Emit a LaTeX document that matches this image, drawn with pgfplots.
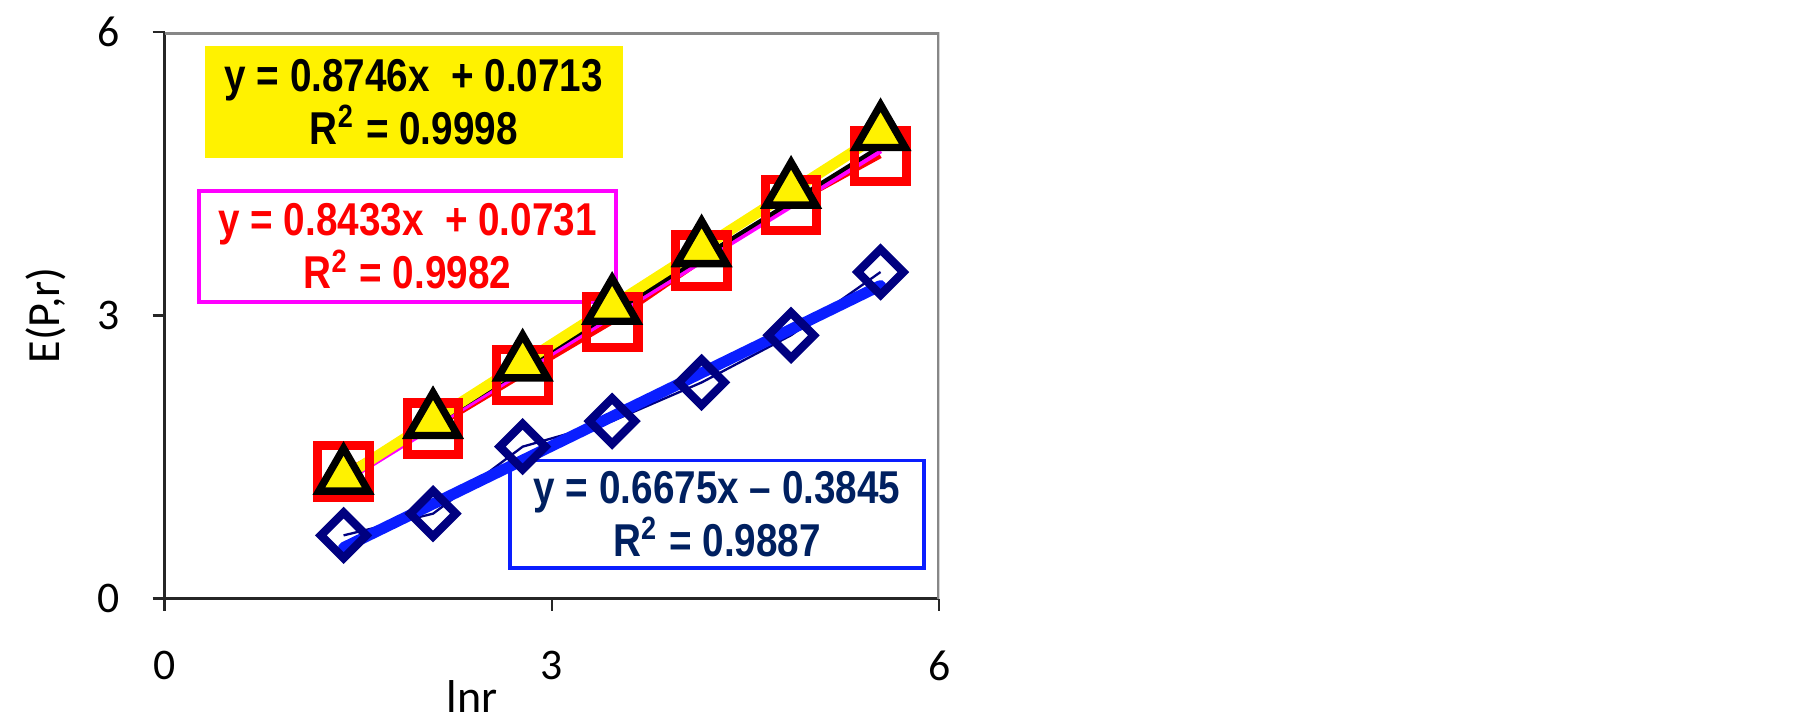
\documentclass[border=0pt]{standalone}
\usepackage{fontspec}
\setmainfont{Carlito}
\newfontfamily\eqfont[FakeStretch=0.84]{Liberation Sans}
\usepackage{pgfplots}
\pgfplotsset{compat=1.18}
\definecolor{navyd}{RGB}{0,0,128}
\definecolor{eqnavy}{RGB}{0,32,96}
\definecolor{trendblue}{RGB}{10,30,255}
\definecolor{mag}{RGB}{255,0,255}
\definecolor{framegray}{RGB}{135,135,135}
\begin{document}
\begin{tikzpicture}
\useasboundingbox (-35.75pt,-26.5pt) rectangle (356.25pt,130pt);
\begin{axis}[
  at={(0,0)}, anchor=south west,
  scale only axis, width=168.25pt, height=123pt,
  xmin=0, xmax=6, ymin=0, ymax=6,
  xtick={0,3,6}, ytick={0,3,6},
  axis lines=left,
  axis line style={-, black!85, line width=0.6pt},
  tick align=outside, major tick length=2.6pt,
  tick style={black!85, line width=0.5pt},
  /pgf/number format/assume math mode=true,
  ticklabel style={font=\fontsize{9.5}{10}\selectfont},
  xticklabel style={anchor=center, yshift=-12pt},
  yticklabel style={anchor=center, xshift=-9.5pt},
  xlabel={lnr}, ylabel={E(P,r)},
  label style={font=\fontsize{10}{11}\selectfont},
  xlabel style={at={(axis description cs:0.397,-0.1728)}, anchor=center},
  ylabel style={at={(axis description cs:-0.153,0.5)}, anchor=center},
]
\draw[framegray, line width=1pt] (rel axis cs:0,1) -- (rel axis cs:1,1) -- (rel axis cs:1,0);
\node[fill=yellow, minimum width=90.75pt, minimum height=24.25pt, inner sep=0pt, align=center,
      font=\eqfont\bfseries\fontsize{10}{9}\selectfont, text=black]
  at (axis cs:1.93,5.262) {y = 0.8746x~ + 0.0713\\R\textsuperscript{2} = 0.9998};
\node[draw=mag, line width=0.85pt, minimum width=90.5pt, minimum height=24pt, inner sep=0pt, align=center,
      font=\eqfont\bfseries\fontsize{10}{9}\selectfont, text=red]
  at (axis cs:1.881,3.732) {y = 0.8433x~ + 0.0731\\R\textsuperscript{2} = 0.9982};
\node[draw=trendblue, line width=0.85pt, minimum width=90pt, minimum height=23.25pt, inner sep=0pt, align=center,
      font=\eqfont\bfseries\fontsize{10}{9}\selectfont, text=eqnavy]
  at (axis cs:4.279,0.896) {y = 0.6675x – 0.3845\\R\textsuperscript{2} = 0.9887};
% squares series
\addplot[red, line width=1pt, mark=square, mark size=5.6pt, mark options={line width=2pt, solid}]
  coordinates {(1.386,1.35) (2.079,1.80) (2.773,2.37) (3.466,2.93) (4.159,3.58) (4.852,4.17) (5.545,4.69)};
% diamonds series
\addplot[navyd, line width=0.5pt, mark=square, mark size=3.5pt, mark options={rotate=45, line width=1.8pt, solid}]
  coordinates {(1.386,0.67) (2.079,0.90) (2.773,1.61) (3.466,1.88) (4.159,2.29) (4.852,2.79) (5.545,3.46)};
% triangles series
\addplot[only marks, mark=triangle*, mark size=6.2pt, mark options={fill=yellow, draw=black, line width=1.6pt}]
  coordinates {(1.386,1.29) (2.079,1.88) (2.773,2.49) (3.466,3.09) (4.159,3.70) (4.852,4.32) (5.545,4.93)};
% trendlines
\addplot[trendblue, line width=2.4pt, line cap=round] coordinates {(1.386,0.5407) (5.545,3.317)};
\addplot[mag, line width=1.3pt] coordinates {(1.386,1.242) (5.545,4.749)};
\addplot[black, line width=0.9pt] coordinates {(1.386,1.262) (5.545,4.79)};
\addplot[yellow, line width=2.3pt] coordinates {(1.386,1.284) (5.545,4.921)};
\end{axis}
\end{tikzpicture}
\end{document}
